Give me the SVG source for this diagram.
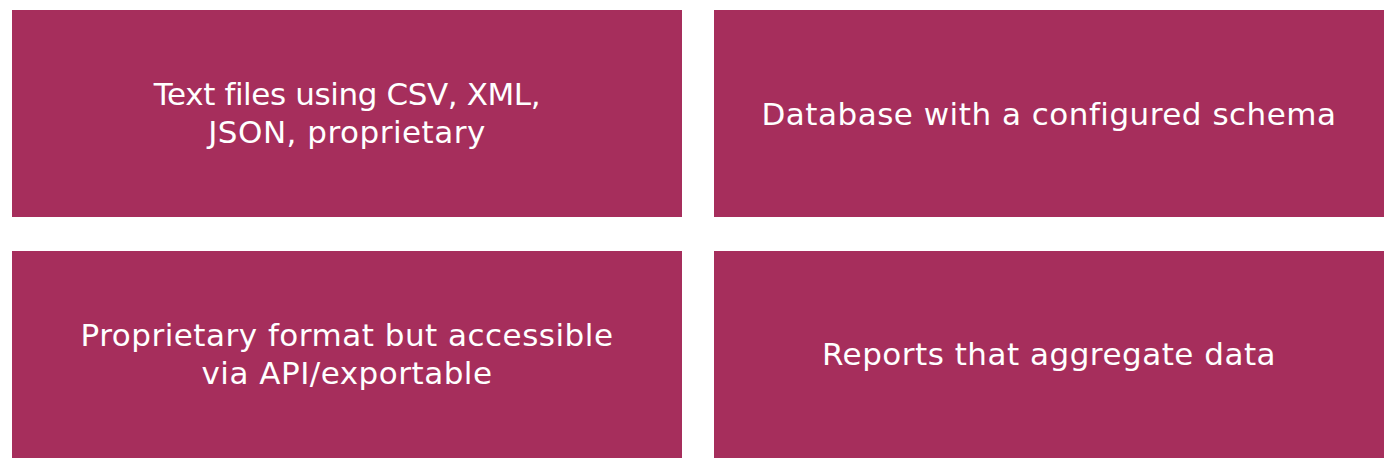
<svg xmlns="http://www.w3.org/2000/svg" width="1400" height="471" viewBox="0 0 1400 471">
<style>
.box{fill:#A62E5C}
.t{fill:#FFFFFF;font-family:"DejaVu Sans","Liberation Sans",sans-serif;font-size:31px;letter-spacing:0.5px;text-anchor:middle}
.tight{letter-spacing:-0.4px}
</style>
<rect width="1400" height="471" fill="#FFFFFF"/>
<g id="node1"><rect class="box" x="12" y="10" width="670" height="207"/><text class="t tight" x="347" y="105">Text files using CSV, XML,</text><text class="t" x="347" y="143">JSON, proprietary</text></g>
<g id="node2"><rect class="box" x="714" y="10" width="670" height="207"/><text class="t" x="1049" y="125">Database with a configured schema</text></g>
<g id="node3"><rect class="box" x="12" y="251" width="670" height="207"/><text class="t" x="347" y="346">Proprietary format but accessible</text><text class="t" x="347" y="384">via API/exportable</text></g>
<g id="node4"><rect class="box" x="714" y="251" width="670" height="207"/><text class="t" x="1049" y="365">Reports that aggregate data</text></g>
<g id="connectors"></g>
</svg>
